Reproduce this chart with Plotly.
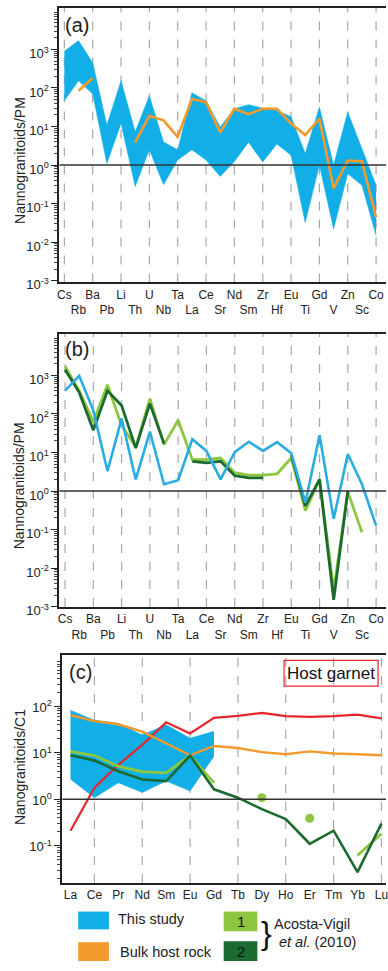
import plotly.graph_objects as go

W, H = 388, 971

# ---------------- data ----------------
cats_ab = ["Cs", "Rb", "Ba", "Pb", "Li", "Th", "U", "Nb", "Ta", "La", "Ce", "Sr",
           "Nd", "Sm", "Zr", "Hf", "Eu", "Ti", "Gd", "V", "Zn", "Sc", "Co"]

# (a) nanogranitoids range (this study) and bulk host rock, normalised to PM
a_upper = [900, 1700, 450, 11, 155, 7.3, 63, 4, 2.5, 75, 47, 9.8,
           29, 37, 30, 26, 18, 2.0, 32, 1.0, 24, 2.8, 0.30]
a_lower = [47, 155, 70, 1.1, 12, 0.28, 2.5, 0.31, 1.35, 2.5, 1.35, 0.51,
           1.24, 3.9, 1.2, 3.5, 1.8, 0.032, 1.0, 0.022, 0.6, 0.3, 0.015]
a_bulk = [None, 85, 178, None, None, 3.9, 19, 14.5, 5.4, 52, 43, 7,
          29, 21, 29, 29, 12, 6, 16, 0.25, 1.3, 1.25, 0.044]

# (b) this study vs Acosta-Vigil et al. (2010)
b_study = [405, 980, 124, 3.3, 76, 2.0, 35, 1.5, 1.9, 22, 11, 2.0,
           10.2, 19, 11, 18.5, 9.6, 0.5, 28, 0.19, 9.1, 1.5, 0.127]
b_av1 = [1700, 400, 62, 570, 50, 14, 250, 16, 69, 6.5, 6.5, 7.2,
         3.0, 2.6, 2.6, 2.8, 7.2, 0.31, 2.0, 0.0027, 0.95, 0.085, None]
b_av2 = [1400, 365, 38, 400, 166, 13, 185, 17, None, 5.9, 5.4, 5.9,
         2.5, 2.2, 2.2, None, 8.7, 0.41, 2.0, 0.0015, 1.0, None, None]

# (c) REE normalised to C1
cats_c = ["La", "Ce", "Pr", "Nd", "Sm", "Eu", "Gd", "Tb", "Dy", "Ho", "Er", "Tm", "Yb", "Lu"]
c_upper = [82, 50, 43, 24, 40, 20.5, 29, None, None, None, None, None, None, None]
c_lower = [2.7, 1.08, 2.25, 1.4, 2.45, 1.5, 8.4, None, None, None, None, None, None, None]
c_bulk = [64, 48, 41, 28.5, 16, 8.8, 14, 12.6, 10.3, 9.3, 10.7, 9.6, 9.3, 8.8]
c_garnet = [0.21, 1.77, 5.5, 14.8, 45, 26, 56, 62, 72, 61, 59, 61, 66, 55]
c_av1 = [10.7, 8.7, 5.1, 3.9, 3.7, 8.7, 2.25, None, 1.08, None, 0.39, None, 0.062, 0.18]
c_av2 = [8.8, 6.8, 4.0, 2.66, 2.45, 8.7, 1.63, 1.08, 0.61, 0.375, 0.11, 0.21, 0.027, 0.30]

ytick_ab = [-3, -2, -1, 0, 1, 2, 3]
ytick_c = [-1, 0, 1, 2]

# ---------------- styles ----------------
BLUE = "#12aee8"
BLUE_LINE = "#2aace2"
ORANGE = "#f39a2c"
LGREEN = "#8dc63f"
DGREEN = "#1b6a30"
RED = "#e5262b"
FONT = "Liberation Sans, Arial, sans-serif"


def px(x):
    return x / W


def py(y):
    return 1 - y / H


fig = go.Figure()
xa = list(range(len(cats_ab)))
xc = list(range(len(cats_c)))

# panel a
fig.add_trace(go.Scatter(x=xa, y=a_lower, mode="lines", line=dict(width=0.5, color=BLUE),
                         xaxis="x", yaxis="y", hoverinfo="skip"))
fig.add_trace(go.Scatter(x=xa, y=a_upper, mode="lines", line=dict(width=0.5, color=BLUE),
                         fill="tonexty", fillcolor=BLUE, xaxis="x", yaxis="y", hoverinfo="skip"))
fig.add_trace(go.Scatter(x=xa, y=a_bulk, mode="lines", line=dict(width=2.6, color=ORANGE),
                         xaxis="x", yaxis="y"))

# panel b
fig.add_trace(go.Scatter(x=xa, y=b_av1, mode="lines", line=dict(width=2.8, color=LGREEN),
                         xaxis="x2", yaxis="y2"))
fig.add_trace(go.Scatter(x=xa, y=b_av2, mode="lines", line=dict(width=2.8, color=DGREEN),
                         xaxis="x2", yaxis="y2"))
fig.add_trace(go.Scatter(x=xa, y=b_study, mode="lines", line=dict(width=2.6, color=BLUE_LINE),
                         xaxis="x2", yaxis="y2"))

# panel c
fig.add_trace(go.Scatter(x=xc, y=c_lower, mode="lines", line=dict(width=0.5, color=BLUE),
                         xaxis="x3", yaxis="y3", hoverinfo="skip"))
fig.add_trace(go.Scatter(x=xc, y=c_upper, mode="lines", line=dict(width=0.5, color=BLUE),
                         fill="tonexty", fillcolor=BLUE, xaxis="x3", yaxis="y3", hoverinfo="skip"))
fig.add_trace(go.Scatter(x=xc, y=c_garnet, mode="lines", line=dict(width=2.2, color=RED),
                         xaxis="x3", yaxis="y3"))
fig.add_trace(go.Scatter(x=xc, y=c_bulk, mode="lines", line=dict(width=2.4, color=ORANGE),
                         xaxis="x3", yaxis="y3"))
fig.add_trace(go.Scatter(x=xc, y=c_av1, mode="lines", line=dict(width=2.8, color=LGREEN),
                         xaxis="x3", yaxis="y3"))
# isolated light-green points drawn as dots
iso_x, iso_y = [], []
for i, v in enumerate(c_av1):
    if v is None:
        continue
    left = c_av1[i - 1] if i > 0 else None
    right = c_av1[i + 1] if i < len(c_av1) - 1 else None
    if left is None and right is None:
        iso_x.append(i)
        iso_y.append(v)
fig.add_trace(go.Scatter(x=iso_x, y=iso_y, mode="markers", marker=dict(size=9, color=LGREEN),
                         xaxis="x3", yaxis="y3"))
fig.add_trace(go.Scatter(x=xc, y=c_av2, mode="lines", line=dict(width=2.6, color=DGREEN),
                         xaxis="x3", yaxis="y3"))


def minor_vals(lo, hi):
    return [k * 10 ** n for n in range(lo, hi) for k in range(2, 10)]


def yaxis(domain, rng, ticks, anchor, shift):
    return dict(
        type="log", domain=domain, range=rng, anchor=anchor,
        tickmode="array", tickvals=[10 ** t for t in ticks],
        ticktext=["10<sup>%d</sup>" % t for t in ticks],
        ticks="outside", ticklen=6, tickwidth=1, tickcolor="#222",
        ticklabelshift=shift,
        minor=dict(tickmode="array", tickvals=minor_vals(ticks[0] - 1, ticks[-1] + 1),
                   ticks="outside", ticklen=3, tickwidth=1, tickcolor="#444", showgrid=False),
        showline=True, linecolor="#222", linewidth=2, mirror=False,
        showgrid=False, zeroline=False,
        tickfont=dict(family=FONT, size=13, color="#222"),
    )


def xaxis(domain, rng, cats, anchor, two_rows):
    texts = []
    for i, c in enumerate(cats):
        texts.append("<br>" + c if (two_rows and i % 2 == 1) else c)
    return dict(
        domain=domain, range=rng, anchor=anchor,
        tickmode="array", tickvals=list(range(len(cats))), ticktext=texts,
        tickangle=0, ticklabeloverflow="allow",
        ticks="", showgrid=False, zeroline=False,
        showline=True, linecolor="#222", linewidth=2, mirror=True,
        tickfont=dict(family=FONT, size=12, color="#222"),
    )


dom_ab_x = [px(58), 1]
dom_c_x = [px(61), 1]
fig.update_layout(
    width=W, height=H,
    margin=dict(l=0, r=0, t=0, b=0),
    paper_bgcolor="white", plot_bgcolor="white",
    showlegend=False,
    xaxis=xaxis(dom_ab_x, [-0.35, 22.7], cats_ab, "y", True),
    yaxis=yaxis([py(285.7), py(8)], [-3.044, 4.077], ytick_ab, "x", 4),
    xaxis2=xaxis(dom_ab_x, [-0.40, 22.7], cats_ab, "y2", True),
    yaxis2=yaxis([py(614), py(338)], [-3.01, 4.07], ytick_ab, "x2", 4),
    xaxis3=xaxis(dom_c_x, [-0.34, 13.19], cats_c, "y3", False),
    yaxis3=yaxis([py(893), py(662.7)], [-1.80, 3.098], ytick_c, "x3", 1),
)

shapes = []
# dashed category guides
for xr, yr, idxs in [("x", "y domain", range(0, len(cats_ab), 2)),
                     ("x2", "y2 domain", range(0, len(cats_ab), 2)),
                     ("x3", "y3 domain", range(1, len(cats_c), 2))]:
    for i in idxs:
        shapes.append(dict(type="line", xref=xr, yref=yr, x0=i, x1=i, y0=0, y1=1,
                           line=dict(color="#a8a8a8", width=1.2, dash="dash"), layer="below"))
# unity lines
for xr, yr in [("x domain", "y"), ("x2 domain", "y2"), ("x3 domain", "y3")]:
    shapes.append(dict(type="line", xref=xr, yref=yr, x0=0, x1=1, y0=1, y1=1,
                       line=dict(color="#333", width=1.5), layer="above"))

# Host garnet box
shapes.append(dict(type="rect", xref="paper", yref="paper", x0=px(285), x1=px(380),
                   y0=py(694), y1=py(668), line=dict(color=RED, width=1.2)))

# legend boxes
for (x0, x1, y0, y1, col) in [(77, 108, 922, 940, BLUE), (77, 108, 953, 972, ORANGE),
                              (224, 258, 922, 942, LGREEN), (224, 258, 952, 972, DGREEN)]:
    shapes.append(dict(type="rect", xref="paper", yref="paper", x0=px(x0), x1=px(x1),
                       y0=py(y1), y1=py(y0), line=dict(width=0), fillcolor=col))
fig.update_layout(shapes=shapes)

ann = []


def text(x, y, s, size, **kw):
    d = dict(xref="paper", yref="paper", x=px(x), y=py(y), text=s, showarrow=False,
             font=dict(family=FONT, size=size, color=kw.pop("color", "#222")),
             xanchor=kw.pop("xanchor", "center"), yanchor=kw.pop("yanchor", "middle"))
    d.update(kw)
    ann.append(d)


text(62, 25, "(a)", 20, xanchor="left")
text(62, 353, "(b)", 20, xanchor="left")
text(66, 680, "(c)", 20, xanchor="left")
text(18, 162, "Nannogranitoids/PM", 14, textangle=-90)
text(18, 491, "Nannogranitoids/PM", 14, textangle=-90)
text(18, 776, "Nanogranitoids/C1", 14, textangle=-90)
text(332.5, 681, "Host garnet", 17, color="#111")
text(115, 930, "This study", 14.5, xanchor="left")
text(117, 963, "Bulk host rock", 14.5, xanchor="left")
text(241, 932, "1", 15, color="#111")
text(241, 962, "2", 15, color="#111")
text(267, 944, "}", 32, color="#111")
text(273, 935, "Acosta-Vigil", 14.5, xanchor="left")
text(278, 953, "<i>et al.</i> (2010)", 14.5, xanchor="left")
fig.update_layout(annotations=ann)

fig.write_html(
    "out.html",
    config={"displayModeBar": False, "staticPlot": True},
    post_script="document.body.style.margin='0';document.body.style.overflow='hidden';"
                "document.documentElement.style.overflow='hidden';",
)
